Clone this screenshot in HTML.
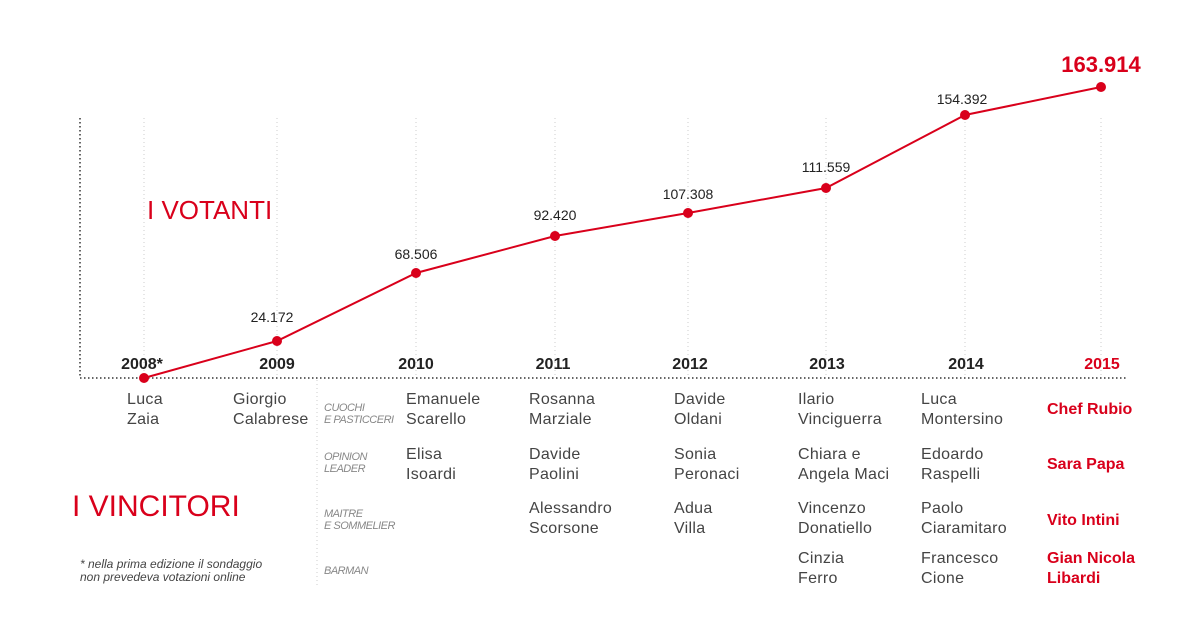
<!DOCTYPE html>
<html><head><meta charset="utf-8"><style>
body{margin:0;background:#fff}
svg{display:block}
text{font-family:"Liberation Sans",sans-serif}
.n{font-size:16px;fill:#444;letter-spacing:0.3px}
.y{font-size:16px;font-weight:bold;fill:#222;text-anchor:middle}
.v{font-size:14px;fill:#222;text-anchor:middle}
.c{font-size:11px;fill:#888;font-style:italic;letter-spacing:-0.5px}
.r{font-size:16px;font-weight:bold;fill:#d9001b}
</style></head><body>
<svg width="1200" height="631" viewBox="0 0 1200 631">
<g stroke="#ccc" stroke-dasharray="1,3" stroke-width="1">
<line x1="144" y1="118" x2="144" y2="378"/><line x1="277" y1="118" x2="277" y2="378"/>
<line x1="416" y1="118" x2="416" y2="378"/><line x1="555" y1="118" x2="555" y2="378"/>
<line x1="688" y1="118" x2="688" y2="378"/><line x1="826" y1="118" x2="826" y2="378"/>
<line x1="965" y1="118" x2="965" y2="378"/><line x1="1101" y1="118" x2="1101" y2="378"/>
<line x1="317" y1="380" x2="317" y2="586"/>
</g>
<g stroke="#333" stroke-dasharray="1.5,2.5" stroke-width="1.5">
<line x1="80" y1="378" x2="1126" y2="378"/><line x1="80" y1="118" x2="80" y2="378"/>
</g>
<polyline fill="none" stroke="#d9001b" stroke-width="2" points="144,378 277,341 416,273 555,236 688,213 826,188 965,115 1101,87"/>
<g fill="#d9001b">
<circle cx="144" cy="378" r="5"/><circle cx="277" cy="341" r="5"/><circle cx="416" cy="273" r="5"/><circle cx="555" cy="236" r="5"/>
<circle cx="688" cy="213" r="5"/><circle cx="826" cy="188" r="5"/><circle cx="965" cy="115" r="5"/><circle cx="1101" cy="87" r="5"/>
</g>
<text class="v" x="272" y="322">24.172</text><text class="v" x="416" y="259">68.506</text>
<text class="v" x="555" y="220">92.420</text><text class="v" x="688" y="199">107.308</text>
<text class="v" x="826" y="172">111.559</text><text class="v" x="962" y="104">154.392</text>
<text x="1101" y="72" text-anchor="middle" style="font-size:22px;font-weight:bold;fill:#d9001b">163.914</text>
<text x="147" y="219" style="font-size:26px;fill:#d9001b">I VOTANTI</text>
<text x="72" y="516" style="font-size:30px;fill:#d9001b">I VINCITORI</text>
<text class="y" x="142" y="369">2008*</text><text class="y" x="277" y="369">2009</text><text class="y" x="416" y="369">2010</text>
<text class="y" x="553" y="369">2011</text><text class="y" x="690" y="369">2012</text><text class="y" x="827" y="369">2013</text>
<text class="y" x="966" y="369">2014</text><text class="y" x="1102" y="369" style="fill:#d9001b">2015</text>
<g>
<text class="n" x="127" y="404">Luca</text><text class="n" x="127" y="424">Zaia</text>
<text class="n" x="233" y="404">Giorgio</text><text class="n" x="233" y="424">Calabrese</text>
<text class="n" x="406" y="404">Emanuele</text><text class="n" x="406" y="424">Scarello</text>
<text class="n" x="406" y="459">Elisa</text><text class="n" x="406" y="479">Isoardi</text>
<text class="n" x="529" y="404">Rosanna</text><text class="n" x="529" y="424">Marziale</text>
<text class="n" x="529" y="459">Davide</text><text class="n" x="529" y="479">Paolini</text>
<text class="n" x="529" y="513">Alessandro</text><text class="n" x="529" y="533">Scorsone</text>
<text class="n" x="674" y="404">Davide</text><text class="n" x="674" y="424">Oldani</text>
<text class="n" x="674" y="459">Sonia</text><text class="n" x="674" y="479">Peronaci</text>
<text class="n" x="674" y="513">Adua</text><text class="n" x="674" y="533">Villa</text>
<text class="n" x="798" y="404">Ilario</text><text class="n" x="798" y="424">Vinciguerra</text>
<text class="n" x="798" y="459">Chiara e</text><text class="n" x="798" y="479">Angela Maci</text>
<text class="n" x="798" y="513">Vincenzo</text><text class="n" x="798" y="533">Donatiello</text>
<text class="n" x="798" y="563">Cinzia</text><text class="n" x="798" y="583">Ferro</text>
<text class="n" x="921" y="404">Luca</text><text class="n" x="921" y="424">Montersino</text>
<text class="n" x="921" y="459">Edoardo</text><text class="n" x="921" y="479">Raspelli</text>
<text class="n" x="921" y="513">Paolo</text><text class="n" x="921" y="533">Ciaramitaro</text>
<text class="n" x="921" y="563">Francesco</text><text class="n" x="921" y="583">Cione</text>
</g>
<text class="r" x="1047" y="414">Chef Rubio</text><text class="r" x="1047" y="469">Sara Papa</text>
<text class="r" x="1047" y="525">Vito Intini</text>
<text class="r" x="1047" y="563">Gian Nicola</text><text class="r" x="1047" y="583">Libardi</text>
<text class="c" x="324" y="411">CUOCHI</text><text class="c" x="324" y="423">E PASTICCERI</text>
<text class="c" x="324" y="460">OPINION</text><text class="c" x="324" y="472">LEADER</text>
<text class="c" x="324" y="517">MAITRE</text><text class="c" x="324" y="529">E SOMMELIER</text>
<text class="c" x="324" y="574">BARMAN</text>
<text x="80" y="568" style="font-size:12px;font-style:italic;fill:#444">* nella prima edizione il sondaggio</text>
<text x="80" y="581" style="font-size:12px;font-style:italic;fill:#444">non prevedeva votazioni online</text>
</svg>
</body></html>
